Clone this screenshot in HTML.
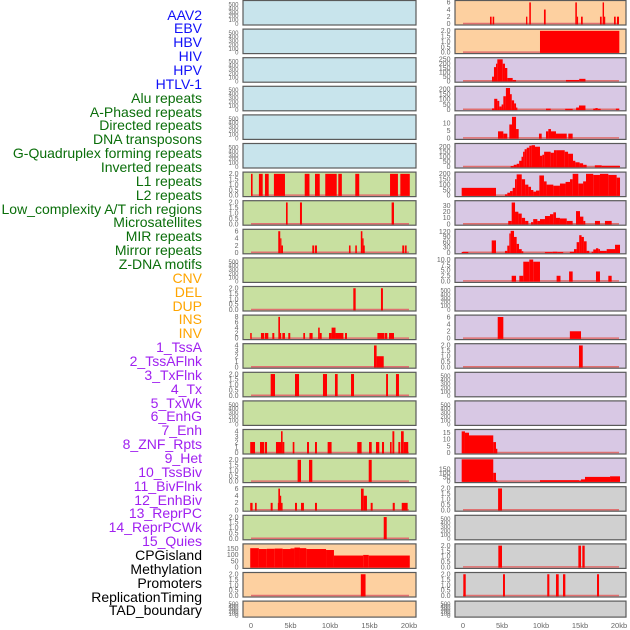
<!DOCTYPE html>
<html><head><meta charset="utf-8">
<style>
html,body{margin:0;padding:0;background:#fff;}
#wrap{position:relative;width:630px;height:630px;overflow:hidden;}
.lbl{position:absolute;right:428px;font-family:"Liberation Sans",sans-serif;font-size:14px;line-height:14px;white-space:nowrap;text-align:right;}
svg text{font-family:"Liberation Sans",sans-serif;}
</style></head>
<body>
<div id="wrap">
<div id="labels"></div>
<svg id="chart" width="630" height="630"></svg>
</div>
<script>
// ---- labels ----
const labelNames = ["AAV2","EBV","HBV","HIV","HPV","HTLV-1","Alu repeats","A-Phased repeats","Directed repeats","DNA transposons","G-Quadruplex forming repeats","Inverted repeats","L1 repeats","L2 repeats","Low_complexity A/T rich regions","Microsatellites","MIR repeats","Mirror repeats","Z-DNA motifs","CNV","DEL","DUP","INS","INV","1_TssA","2_TssAFlnk","3_TxFlnk","4_Tx","5_TxWk","6_EnhG","7_Enh","8_ZNF_Rpts","9_Het","10_TssBiv","11_BivFlnk","12_EnhBiv","13_ReprPC","14_ReprPCWk","15_Quies","CPGisland","Methylation","Promoters","ReplicationTiming","TAD_boundary"];
const labelGroups = ["v","v","v","v","v","v","r","r","r","r","r","r","r","r","r","r","r","r","r","s","s","s","s","s","c","c","c","c","c","c","c","c","c","c","c","c","c","c","c","o","o","o","o","o"];
const groupTextColor = {v:"#1010f8",r:"#0a6e0a",s:"#ffa500",c:"#a020f0",o:"#000000"};
const groupPanelColor = {v:"#c8e4ec",r:"#c8e0a0",s:"#fdd0a0",c:"#d8c8e4",o:"#d0d0d0"};

// ---- per-track data: [startKb, endKb, value] ----
const d_AAV2=[],d_EBV=[],d_HBV=[],d_HIV=[],d_HPV=[],d_HTLV=[];
const d_Alu=[[0,0.2,2],[1.0,1.48,2],[1.77,2.24,2],[2.9,4.3,2],[6.8,7.4,2],[8.1,8.7,2],[9.4,10.85,2],[11.05,11.5,2],[13.2,13.7,2],[17.6,18.6,2],[18.9,20.1,2]];
const d_APhased=[[4.43,4.64,2],[6.2,6.45,2],[17.8,18.1,2]];
const d_Directed=[[3.45,3.7,6],[3.7,3.85,4],[3.85,4.05,2],[7.76,8.0,2],[8.1,8.35,2],[12.4,12.6,2],[13.2,13.4,2],[13.9,14.1,6],[14.1,14.2,4],[14.2,14.4,2],[19.15,19.4,2],[19.5,19.7,2]];
const d_DNAtrans=[];
const d_GQuad=[[12.95,13.25,2],[16.45,16.7,2]];
const d_Inverted=[[-0.1,0.09,2],[1.26,1.68,2],[1.77,2.19,2],[2.7,2.95,2],[3.46,3.67,8],[3.67,3.8,2],[3.97,4.3,2],[4.72,4.97,2],[6.62,6.84,2],[7.4,7.8,2],[8.5,8.7,4],[8.7,8.95,2],[9.87,10.2,2],[10.2,10.7,4],[10.7,11.7,2],[11.9,12.15,2],[16.0,16.9,2],[16.96,17.25,2],[17.47,18.1,2]];
const d_L1=[[15.57,15.9,4],[15.9,16.8,2]];
const d_L2=[[2.49,3.04,2],[5.57,6.08,2],[9.11,9.62,2],[10.63,10.97,2],[12.66,13.04,2],[17.1,17.34,2],[18.35,18.73,2]];
const d_LowComp=[];
const d_Microsat=[[-0.1,0.51,2],[1.14,1.68,2],[1.77,2.03,2],[3.16,3.8,2],[3.8,4.0,4],[4.0,4.22,2],[5.28,5.49,2],[7.09,7.34,2],[8.1,8.35,2],[9.7,10.2,2],[13.45,14.0,2],[14.94,15.28,2],[15.82,16.24,2],[16.58,16.84,2],[17.6,17.8,2],[17.9,18.14,4],[18.65,18.9,2],[18.99,19.33,4],[19.33,19.9,2]];
const d_MIR=[[5.9,6.33,2],[7.34,7.76,2],[14.9,15.28,2]];
const d_Mirror=[[-0.1,0.2,2],[0.51,0.72,2],[2.49,2.74,2],[3.4,3.46,2],[3.46,3.67,6],[3.67,3.8,4],[3.8,4.0,2],[5.57,5.82,2],[6.33,6.7,2],[8.1,8.35,2],[13.92,14.26,6],[14.26,14.68,4],[15.15,15.4,2],[17.94,18.2,2],[19.08,19.83,2]];
const d_ZDNA=[[16.8,17.18,2]];
const d_CNV=[[-0.1,1,155],[1,2,148],[2,3,150],[3,4,152],[4,5,148],[5,5.5,153],[5.5,6.2,160],[6.2,7,155],[7,9.5,148],[9.5,10.5,140],[10.5,14.2,95],[14.2,14.9,100],[14.9,20.1,95]];
const d_DEL=[[13.9,14.5,2]];
const d_DUP=[];
const d_INS=[[3.46,3.67,2],[3.8,4.0,2],[8.08,8.25,2],[8.5,8.7,6],[10.38,10.6,4],[14.4,14.6,6],[14.6,14.75,2],[15.13,15.35,2],[17.56,17.78,2],[17.9,18.08,6],[18.08,18.2,2],[19.36,19.58,2],[19.74,20.0,2]];
const d_INV=[[9.87,20.04,2]];
const d_TssA=[[3.72,3.97,50],[3.97,4.23,160],[4.23,4.4,200],[4.4,5.09,250],[5.09,5.38,200],[5.38,5.68,150],[5.68,6.37,35],[6.37,6.8,12],[13.2,14.9,12],[14.9,15.7,25]];
const d_TssAFlnk=[[3.72,4.0,12],[4.0,4.4,105],[4.4,4.65,85],[4.65,4.95,30],[4.95,5.17,50],[5.17,5.5,130],[5.5,6.03,210],[6.03,6.25,150],[6.25,6.55,90],[6.55,6.8,60],[6.8,6.97,20],[10.64,11.24,10],[13.1,14.06,8],[14.5,14.87,20],[14.87,15.7,40],[16.7,16.97,10],[16.97,17.27,15],[17.27,17.65,8],[19.6,20.04,10]];
const d_TxFlnk=[[4.49,5.17,4.5],[5.17,5.68,3],[5.94,6.28,9],[6.28,6.8,14],[6.8,7.14,6],[9.74,10.09,3],[10.64,10.94,4.5],[10.94,11.28,6],[11.28,11.92,4.5],[11.92,13.3,3],[13.5,14.06,3]];
const d_Tx=[[6.11,6.5,8],[6.5,6.88,20],[6.88,7.2,30],[7.2,7.5,60],[7.5,7.7,100],[7.7,7.9,150],[7.9,8.17,175],[8.17,8.5,190],[8.5,8.8,210],[8.8,9.23,215],[9.23,9.87,200],[9.87,10.17,110],[10.17,10.4,120],[10.4,11.24,150],[11.24,11.66,140],[11.66,12.0,165],[12.0,13.04,165],[13.04,13.47,150],[13.47,14.1,130],[14.1,14.4,60],[14.4,14.95,45],[14.95,15.4,35],[15.4,15.85,20],[16.9,17.78,15],[17.78,20.13,10]];
const d_TxWk=[[-0.17,4.23,70],[5.38,5.68,10],[5.68,6.03,25],[6.03,6.37,40],[6.37,6.67,70],[6.67,6.88,150],[6.88,7.53,195],[7.53,7.96,150],[7.96,8.38,100],[8.38,8.72,80],[8.72,9.02,50],[9.02,9.36,35],[9.36,9.79,45],[9.79,10.38,185],[10.38,10.72,130],[10.72,11.58,100],[11.58,12.43,90],[12.43,13.15,110],[13.15,13.72,125],[13.72,14.06,150],[14.06,14.78,200],[14.78,15.4,110],[15.4,15.77,130],[15.77,16.7,200],[16.7,17.56,190],[17.56,18.63,200],[18.63,19.7,190],[19.7,20.13,165]];
const d_EnhG=[[5.8,6.24,5],[6.24,6.67,35],[6.67,7.1,20],[7.1,7.53,17],[7.53,7.96,10],[7.96,8.38,5],[8.72,9.0,3],[9.0,9.53,8],[9.53,9.87,5],[9.87,10.51,8],[10.51,11.15,13],[11.15,11.58,16],[11.58,11.92,19],[11.92,12.43,10],[12.43,13.3,9],[13.3,14.06,5],[14.49,15.0,21],[15.0,15.43,12],[15.43,15.68,5],[16.92,17.56,5],[18.2,19.06,5]];
const d_Enh=[[-0.17,0.68,4],[3.68,4.23,70],[5.38,5.68,10],[5.68,5.94,40],[5.94,6.11,110],[6.11,6.54,125],[6.54,6.88,90],[6.88,7.18,50],[7.18,7.53,20],[7.53,7.73,8],[10.5,11.5,3],[11.5,12.09,5],[12.09,12.85,3],[13.7,14.23,5],[14.23,14.57,20],[14.57,14.9,60],[14.9,15.2,100],[15.2,15.5,90],[15.5,15.85,65],[15.85,16.19,10],[16.49,16.7,5],[16.7,17.05,18],[17.05,17.35,25],[17.35,17.56,20],[17.56,18.42,10],[18.42,19.49,20],[19.49,20.13,45]];
const d_ZNF=[[6.24,6.8,2.5],[7.22,7.73,2.5],[7.73,8.5,9],[8.5,9.0,10],[9.0,9.87,9],[12.0,12.5,2.5],[13.6,14.06,4.5],[17.05,17.56,4.5],[18.63,19.06,2.5]];
const d_Het=[];
const d_TssBiv=[[4.45,5.17,6],[13.7,15.13,2]];
const d_BivFlnk=[[14.87,15.35,2]];
const d_EnhBiv=[],d_ReprPC=[];
const d_ReprPCWk=[[-0.17,0.25,16],[0.25,0.77,15],[0.77,3.88,13],[3.88,4.23,8],[4.23,4.4,3]];
const d_Quies=[[-0.17,3.88,270],[3.88,4.23,105],[4.23,4.4,10],[9.87,14.87,15],[14.87,15.13,10],[15.13,15.64,25],[15.64,18.85,55],[18.85,20.13,62]];
const d_CPG=[[4.5,5.0,2]];
const d_Methyl=[];
const d_Promoters=[[4.53,5.0,2],[14.79,15.13,2],[15.3,15.6,2]];
const d_RepTiming=[[0.04,0.35,2],[5.13,5.38,2],[10.8,11.07,2],[11.92,12.27,2],[12.82,13.12,2],[17.18,17.44,2]];
const d_TAD=[];

const trackData=[d_AAV2,d_EBV,d_HBV,d_HIV,d_HPV,d_HTLV,d_Alu,d_APhased,d_Directed,d_DNAtrans,d_GQuad,d_Inverted,d_L1,d_L2,d_LowComp,d_Microsat,d_MIR,d_Mirror,d_ZDNA,d_CNV,d_DEL,d_DUP,d_INS,d_INV,d_TssA,d_TssAFlnk,d_TxFlnk,d_Tx,d_TxWk,d_EnhG,d_Enh,d_ZNF,d_Het,d_TssBiv,d_BivFlnk,d_EnhBiv,d_ReprPC,d_ReprPCWk,d_Quies,d_CPG,d_Methyl,d_Promoters,d_RepTiming,d_TAD];
const trackMax=[560,560,560,560,560,560,2.05,2.05,6.2,560,2.05,8.2,4.1,2.05,560,4.1,2.05,6.2,2.05,180,2.05,560,6.2,2.05,255,215,14.5,220,205,36,127,10.2,560,6.2,2.05,560,560,16.5,270,2.05,560,2.05,2.05,560];
const ticksEmpty=["0","100","200","300","400","500"];
const ticks2=["0.0","0.5","1.0","1.5","2.0"];
const trackTicks=[ticksEmpty,ticksEmpty,ticksEmpty,ticksEmpty,ticksEmpty,ticksEmpty,ticks2,ticks2,["0","2","4","6"],ticksEmpty,ticks2,["0","2","4","6","8"],["0","1","2","3","4"],ticks2,ticksEmpty,["0","1","2","3","4"],ticks2,["0","2","4","6"],ticks2,["0","50","100","150"],ticks2,ticksEmpty,["0","2","4","6"],ticks2,["0","50","100","150","200","250"],["0","50","100","150","200"],["0","5","10"],["0","50","100","150","200"],["0","50","100","150","200"],["0","10","20","30"],["0","30","60","90","120"],["0.0","2.5","5.0","7.5","10.0"],ticksEmpty,["0","2","4","6"],ticks2,ticksEmpty,ticksEmpty,["0","5","10","15"],["0","50","100","150"],ticks2,ticksEmpty,ticks2,ticks2,ticksEmpty];
const xTickValues=[0,5,10,15,20];
const xTickLabels=["0","5kb","10kb","15kb","20kb"];

// ---- render labels ----
const labWrap=document.getElementById('labels');
labelNames.forEach((name,i)=>{
  const d=document.createElement('div');
  d.className='lbl';
  d.textContent=name;
  d.style.top=(15+i*13.86-7.5)+'px';
  d.style.color=groupTextColor[labelGroups[i]];
  
  
  labWrap.appendChild(d);
});

// ---- render panels ----
const NS="http://www.w3.org/2000/svg";
const svg=document.getElementById('chart');
function mk(tag,attrs,parent){const e=document.createElementNS(NS,tag);for(const k in attrs)e.setAttribute(k,attrs[k]);(parent||svg).appendChild(e);return e;}
const colX=[243,455], colW=[173,171], zeroX=[251,463], kbPx=[7.9,7.8];
function xScale(col,kb){return zeroX[col]+kb*kbPx[col];}
trackData.forEach((segs,idx)=>{
  const col=idx<22?0:1, row=idx%22;
  const top=0.5+row*28.6, h=(row===21)?16:24.5;
  const left=colX[col], w=colW[col];
  const ymax=trackMax[idx];
  const y0=top+h-1.2;
  const yScale=v=>y0-(v/ymax)*(h-2.4);
  const g=mk('g',{});
  
  
  mk('rect',{x:left,y:top,width:w,height:h,fill:groupPanelColor[labelGroups[idx]],stroke:'#5a5a5a','stroke-width':1.2},g);
  if(segs.length){
    const bl=mk('line',{x1:xScale(col,0),x2:xScale(col,20),y1:y0-0.3,y2:y0-0.3,stroke:'#e07070','stroke-width':1.5},g);
    
    
  }
  segs.forEach(s=>{
    const x1=xScale(col,s[0]), x2=xScale(col,s[1]);
    const r=mk('rect',{x:x1,y:yScale(s[2]),width:Math.max(1.2,x2-x1),height:y0-yScale(s[2])+0.5,fill:'#ff0000'},g);
    
    
  });
  const tk=trackTicks[idx];
  const tmax=parseFloat(tk[tk.length-1]);
  const empty=(tk===ticksEmpty);
  tk.forEach(t=>{
    const v=parseFloat(t);
    let yy=empty? y0-(v/560)*(h-2.4) : yScale(v);
    const tx=mk('text',{x:left-4.5,y:yy+2.3,'font-size':empty?6:7,'text-anchor':'end',fill:'#666'},g);
    tx.textContent=t;
    
    
  });
});
// x axes
[0,1].forEach(col=>{
  xTickValues.forEach((v,i)=>{
    const t=mk('text',{x:xScale(col,v),y:628,'font-size':7.5,'text-anchor':'middle',fill:'#666'});
    t.textContent=xTickLabels[i];
    
    
  });
});
</script>
</body></html>
